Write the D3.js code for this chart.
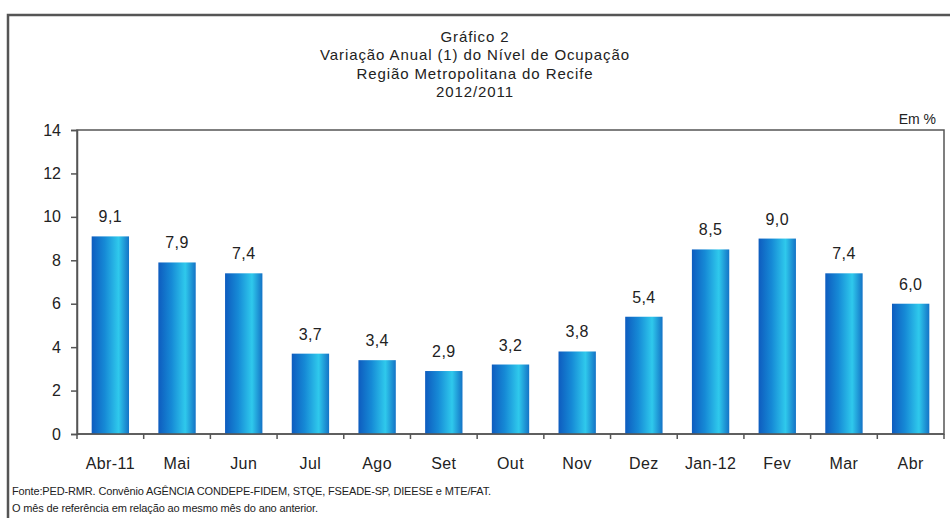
<!DOCTYPE html>
<html>
<head>
<meta charset="utf-8">
<script src="https://cdn.jsdelivr.net/npm/d3@7"></script>
<style>
  body { margin: 0; background: #fff; }
  text { font-family: "Liberation Sans", Arial, sans-serif; fill: #222; }
</style>
</head>
<body>
<script>
// chart values
var months = ["Abr-11", "Mai", "Jun", "Jul", "Ago", "Set", "Out", "Nov", "Dez", "Jan-12", "Fev", "Mar", "Abr"];
var values = [9.1, 7.9, 7.4, 3.7, 3.4, 2.9, 3.2, 3.8, 5.4, 8.5, 9.0, 7.4, 6.0];
var yTicks = [0, 2, 4, 6, 8, 10, 12, 14];
var titleLines = ["Gráfico 2", "Variação Anual (1) do Nível de Ocupação", "Região Metropolitana do Recife", "2012/2011"];
var notes = ["Fonte:PED-RMR. Convênio AGÊNCIA CONDEPE-FIDEM, STQE, FSEADE-SP, DIEESE e MTE/FAT.",
             "O mês de referência em relação ao mesmo mês do ano anterior."];

var W = 950, H = 518;
var margin = {left: 77, right: 6, top: 130, bottom: 84};

var svg = d3.select("body").append("svg")
    .attr("width", W)
    .attr("height", H);

// gradient for the bars
var grad = svg.append("defs").append("linearGradient")
    .attr("id", "barGrad")
    .attr("x1", "0%").attr("x2", "100%").attr("y1", "0%").attr("y2", "0%");
grad.append("stop").attr("offset", "0%").attr("stop-color", "#0e5cbf");
grad.append("stop").attr("offset", "35%").attr("stop-color", "#168ad6");
grad.append("stop").attr("offset", "72%").attr("stop-color", "#2fc9ec");
grad.append("stop").attr("offset", "100%").attr("stop-color", "#1473c6");

// outer frame
svg.append("path")
    .attr("d", "M8," + H + "V15H" + W)
    .attr("fill", "none")
    .attr("stroke", "#555")
    .attr("stroke-width", 2.5);

// title
svg.append("g").selectAll("text")
    .data(titleLines)
  .enter().append("text")
    .attr("x", 475)
    .attr("y", function(d, i) { return 42 + i * 18.3; })
    .attr("text-anchor", "middle")
    .attr("font-size", 15)
    .attr("letter-spacing", 0.9)
    .attr("fill", "#333")
    .text(function(d) { return d; });

var x0 = margin.left, x1 = W - margin.right;
var y0 = H - margin.bottom, y1 = margin.top;

var x = d3.scaleBand()
    .domain(months)
    .range([x0, x1])
    .paddingInner(0.44)
    .paddingOuter(0.22);

var y = d3.scaleLinear()
    .domain([0, 14])
    .range([y0, y1]);

// plot box
svg.append("rect")
    .attr("x", x0).attr("y", y1)
    .attr("width", x1 - x0).attr("height", y0 - y1)
    .attr("fill", "none")
    .attr("stroke", "#555")
    .attr("stroke-width", 1.5);

svg.append("text")
    .attr("x", 936)
    .attr("y", 124)
    .attr("text-anchor", "end")
    .attr("font-size", 14)
    .text("Em %");

// bars
svg.append("g").selectAll("rect")
    .data(values)
  .enter().append("rect")
    .attr("x", function(d, i) { return x(months[i]); })
    .attr("y", function(d) { return y(d); })
    .attr("width", x.bandwidth())
    .attr("height", function(d) { return y0 - y(d); })
    .attr("fill", "url(#barGrad)");

// value labels
svg.append("g").selectAll("text")
    .data(values)
  .enter().append("text")
    .attr("x", function(d, i) { return x(months[i]) + x.bandwidth() / 2; })
    .attr("y", function(d) { return y(d) - 14; })
    .attr("text-anchor", "middle")
    .attr("font-size", 16)
    .attr("letter-spacing", 0.4)
    .text(function(d) { return d.toFixed(1).replace(".", ","); });

// y axis
var yAxis = svg.append("g")
    .attr("transform", "translate(" + x0 + ",0)")
    .call(d3.axisLeft(y).tickValues(yTicks).tickSize(6).tickPadding(10));
yAxis.select(".domain").attr("stroke", "#555").attr("stroke-width", 1.5);
yAxis.selectAll(".tick line").attr("stroke", "#555").attr("stroke-width", 1.5);
yAxis.selectAll(".tick text")
    .attr("font-size", 16)
    .attr("font-family", "Liberation Sans, Arial, sans-serif")
    .attr("fill", "#222");

// x axis, ticks on band edges
var edges = d3.range(months.length + 1).map(function(i) { return x0 + i * (x1 - x0) / months.length; });
var xg = svg.append("g");
xg.append("line")
    .attr("x1", x0).attr("x2", x1)
    .attr("y1", y0).attr("y2", y0)
    .attr("stroke", "#555").attr("stroke-width", 1.5);
xg.selectAll(".edge")
    .data(edges)
  .enter().append("line")
    .attr("class", "edge")
    .attr("x1", function(d) { return d; }).attr("x2", function(d) { return d; })
    .attr("y1", y0).attr("y2", y0 + 5)
    .attr("stroke", "#555").attr("stroke-width", 1.5);
xg.selectAll("text")
    .data(months)
  .enter().append("text")
    .attr("x", function(d) { return x(d) + x.bandwidth() / 2; })
    .attr("y", y0 + 35)
    .attr("text-anchor", "middle")
    .attr("font-size", 16)
    .attr("letter-spacing", 0.4)
    .text(function(d) { return d; });

// footnotes
svg.append("g").selectAll("text")
    .data(notes)
  .enter().append("text")
    .attr("x", 12)
    .attr("y", function(d, i) { return 495 + i * 17; })
    .attr("font-size", 11)
    .attr("font-family", "DejaVu Sans, sans-serif")
    .attr("letter-spacing", -0.15)
    .text(function(d) { return d; });
</script>
</body>
</html>
